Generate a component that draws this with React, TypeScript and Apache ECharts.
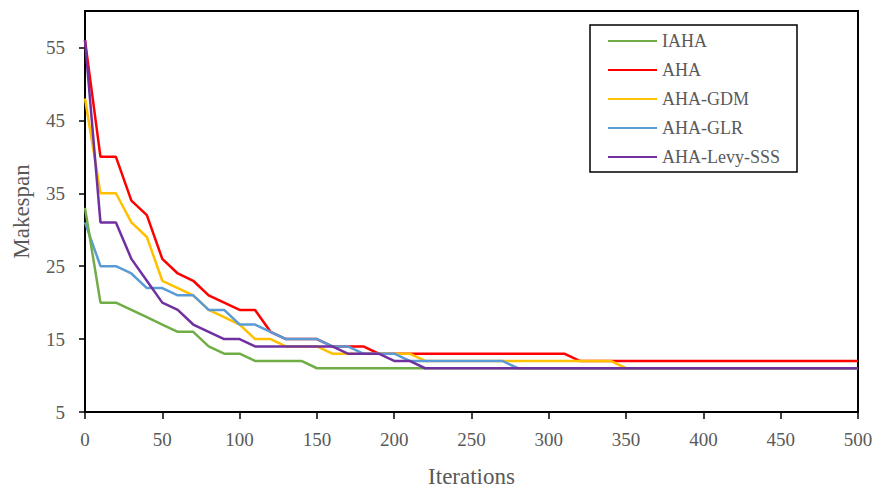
import React, { useEffect, useRef } from "react";
import * as echarts from "echarts";

const iterations: number[] = Array.from({ length: 51 }, (_, i) => i * 10);

const iaha: number[] = [
  33, 20, 20, 19, 18, 17, 16, 16, 14, 13, 13, 12, 12, 12, 12, 11, 11, 11, 11, 11,
  11, 11, 11, 11, 11, 11, 11, 11, 11, 11, 11, 11, 11, 11, 11, 11, 11, 11, 11, 11,
  11, 11, 11, 11, 11, 11, 11, 11, 11, 11, 11,
];
const aha: number[] = [
  56, 40, 40, 34, 32, 26, 24, 23, 21, 20, 19, 19, 16, 15, 15, 15, 14, 14, 14, 13,
  13, 13, 13, 13, 13, 13, 13, 13, 13, 13, 13, 13, 12, 12, 12, 12, 12, 12, 12, 12,
  12, 12, 12, 12, 12, 12, 12, 12, 12, 12, 12,
];
const ahaGdm: number[] = [
  48, 35, 35, 31, 29, 23, 22, 21, 19, 18, 17, 15, 15, 14, 14, 14, 13, 13, 13, 13,
  13, 13, 12, 12, 12, 12, 12, 12, 12, 12, 12, 12, 12, 12, 12, 11, 11, 11, 11, 11,
  11, 11, 11, 11, 11, 11, 11, 11, 11, 11, 11,
];
const ahaGlr: number[] = [
  31, 25, 25, 24, 22, 22, 21, 21, 19, 19, 17, 17, 16, 15, 15, 15, 14, 14, 13, 13,
  13, 12, 12, 12, 12, 12, 12, 12, 11, 11, 11, 11, 11, 11, 11, 11, 11, 11, 11, 11,
  11, 11, 11, 11, 11, 11, 11, 11, 11, 11, 11,
];
const ahaLevy: number[] = [
  56, 31, 31, 26, 23, 20, 19, 17, 16, 15, 15, 14, 14, 14, 14, 14, 14, 13, 13, 13,
  12, 12, 11, 11, 11, 11, 11, 11, 11, 11, 11, 11, 11, 11, 11, 11, 11, 11, 11, 11,
  11, 11, 11, 11, 11, 11, 11, 11, 11, 11, 11,
];

const seriesNames = ["IAHA", "AHA", "AHA-GDM", "AHA-GLR", "AHA-Levy-SSS"];
const seriesColors = ["#70AD47", "#FF0000", "#FFC000", "#5B9BD5", "#7030A0"];
const seriesData = [iaha, aha, ahaGdm, ahaGlr, ahaLevy];
const yTicks = [5, 15, 25, 35, 45, 55];

const FONT = "'Liberation Serif', 'Times New Roman', serif";
const GREY = "#595959";

export default function App() {
  const ref = useRef<HTMLDivElement>(null);
  useEffect(() => {
    if (!ref.current) return;
    const chart = echarts.init(ref.current, null, { renderer: "svg" });
    const order = [1, 2, 3, 0, 4];
    chart.setOption({
      animation: false,
      backgroundColor: "#ffffff",
      grid: {
        left: 85,
        right: 19,
        top: 11,
        bottom: 78,
        show: true,
        borderColor: "#000",
        borderWidth: 2,
      },
      legend: {
        orient: "vertical",
        left: 603,
        top: 27,
        itemWidth: 49,
        itemHeight: 14,
        itemGap: 11,
        data: seriesNames,
        textStyle: { fontFamily: FONT, fontSize: 18, color: GREY },
        icon: "path://M0,6 L49,6 L49,8 L0,8 Z",
      },
      graphic: [
        {
          type: "rect",
          shape: { x: 590, y: 25, width: 207, height: 147 },
          style: { fill: "none", stroke: "#000", lineWidth: 1.5 },
          z: 100,
        },
      ],
      xAxis: {
        type: "value",
        min: 0,
        max: 500,
        interval: 50,
        name: "Iterations",
        nameLocation: "middle",
        nameGap: 53,
        nameTextStyle: { fontFamily: FONT, fontSize: 23, color: GREY },
        axisLine: { show: true, lineStyle: { color: "#000", width: 2 } },
        axisTick: { show: true, length: 7, inside: false, lineStyle: { color: "#000", width: 1.5 } },
        axisLabel: { fontFamily: FONT, fontSize: 19, color: GREY, margin: 18 },
        splitLine: { show: false },
      },
      yAxis: {
        type: "value",
        min: 5,
        max: 60,
        interval: 10,
        name: "Makespan",
        nameLocation: "middle",
        nameGap: 52,
        nameTextStyle: { fontFamily: FONT, fontSize: 23, color: GREY },
        axisLine: { show: true, lineStyle: { color: "#000", width: 2 } },
        axisTick: {
          show: true,
          length: 6,
          customValues: yTicks,
          lineStyle: { color: "#000", width: 1.5 },
        },
        axisLabel: {
          fontFamily: FONT,
          fontSize: 19,
          color: GREY,
          margin: 20,
          customValues: yTicks,
        },
        splitLine: { show: false },
      },
      series: order.map((i) => ({
        name: seriesNames[i],
        type: "line",
        data: iterations.map((x, k) => [x, seriesData[i][k]]),
        symbol: "none",
        showSymbol: false,
        lineStyle: { color: seriesColors[i], width: 2.5 },
        itemStyle: { color: seriesColors[i] },
        z: 2 + order.indexOf(i),
      })),
    });
    return () => chart.dispose();
  }, []);
  return (
    <div
      ref={ref}
      style={{ position: "fixed", left: 0, top: 0, width: 877, height: 493 }}
    />
  );
}
